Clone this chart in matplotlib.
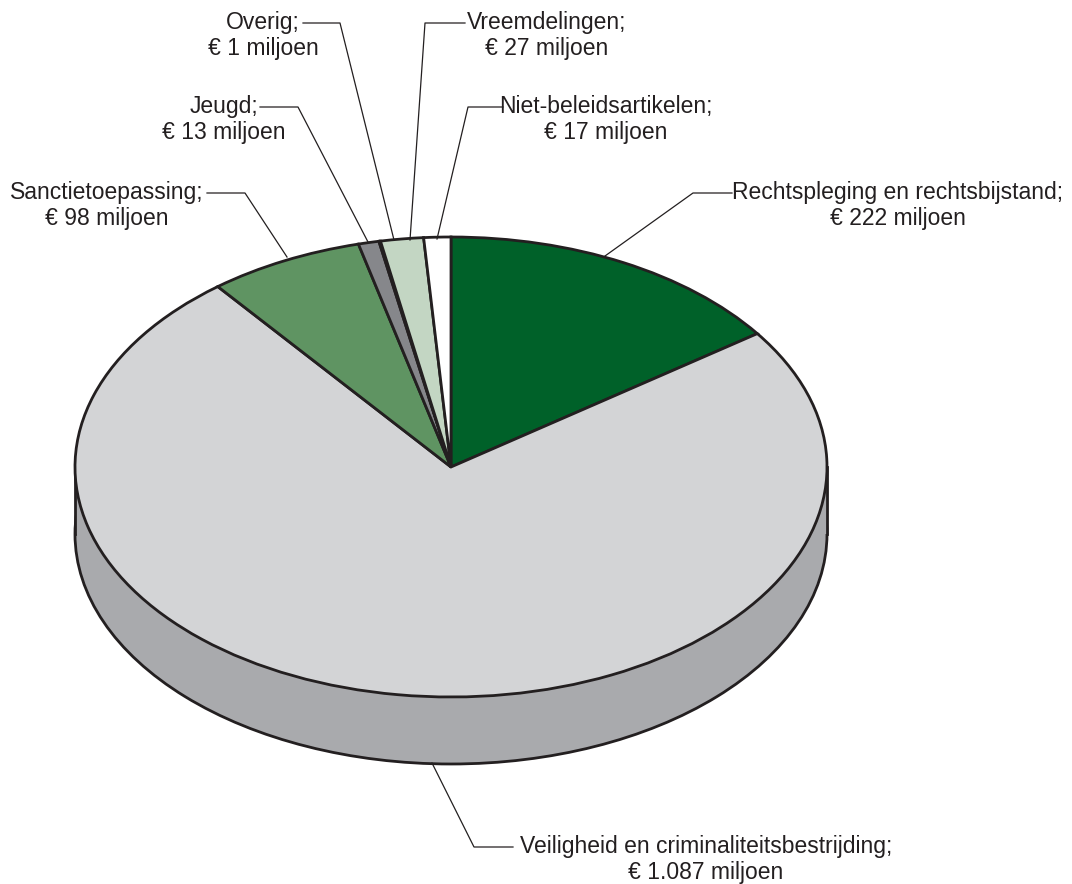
import matplotlib
matplotlib.use('Agg')
import matplotlib.pyplot as plt
from matplotlib.patches import Ellipse, Rectangle
from matplotlib.lines import Line2D

# Begroting per artikel (in miljoen euro)
categories = ['Rechtspleging en rechtsbijstand', 'Veiligheid en criminaliteitsbestrijding',
              'Sanctietoepassing', 'Jeugd', 'Overig', 'Vreemdelingen', 'Niet-beleidsartikelen']
amounts = [222, 1087, 98, 13, 1, 27, 17]
amount_labels = ['€ 222 miljoen', '€ 1.087 miljoen', '€ 98 miljoen', '€ 13 miljoen',
                 '€ 1 miljoen', '€ 27 miljoen', '€ 17 miljoen']

colors = ['#006129', '#d3d4d6', '#5f9462', '#86878b', '#3a3a3c', '#c3d6c3', '#ffffff']
side_color = '#a9aaad'
ink = '#231f20'

W, H = 1072, 884
# pie geometry in pixels
cx, cy = 451, 467
rx, ry = 376, 230
depth = 67

# label layout in pixels (from top-left): edge point, elbow, line end, text centre x, line y
layout = [
    ((605, 256), (693, 193), (732, 193), 898, 193),
    ((432, 763), (474, 847), (513, 847), 706, 847),
    ((287, 257), (245, 193), (207, 193), 107, 193),
    ((368, 242), (298, 107), (260, 107), 224, 107),
    ((394, 240), (340, 23), (303, 23), 263, 23),
    ((410, 240), (425, 23), (465, 23), 547, 23),
    ((437, 239), (468, 107), (503, 107), 606, 107),
]

fig = plt.figure(figsize=(W / 100, H / 100), dpi=100)
ax = fig.add_axes([0, 0, 1, 1])

d = depth / ry
# side of the cylinder
ax.add_patch(Rectangle((-1, -d), 2, d, facecolor=side_color, edgecolor='none', zorder=1))
ax.add_patch(Ellipse((0, -d), 2, 2, facecolor=side_color, edgecolor=ink, lw=2, zorder=0.9))
for sx in (-1, 1):
    ax.add_line(Line2D([sx, sx], [-d, 0], color=ink, lw=2, zorder=1.1))

wedges, _ = ax.pie(amounts, colors=colors, startangle=90, counterclock=False,
                   radius=1, center=(0, 0),
                   wedgeprops=dict(edgecolor=ink, linewidth=2))
for w in wedges:
    w.set_zorder(2)

ax.set_aspect('auto')
ax.set_xlim(-cx / rx, (W - cx) / rx)
ax.set_ylim(-(H - cy) / ry, cy / ry)
ax.axis('off')

font = dict(family=['Liberation Sans', 'DejaVu Sans'], size=16.5, color=ink)
for name, amt, (p0, p1, p2, tx, ty) in zip(categories, amount_labels, layout):
    xs = [p0[0], p1[0], p2[0]]
    ys = [H - p0[1], H - p1[1], H - p2[1]]
    fig.add_artist(Line2D(xs, ys, transform=None, color=ink, lw=0.9))
    fig.text(tx / W, 1 - ty / H, name + ';', ha='center', va='center', **font)
    fig.text(tx / W, 1 - (ty + 25) / H, amt, ha='center', va='center', **font)

fig.savefig('out.png', dpi=100)
